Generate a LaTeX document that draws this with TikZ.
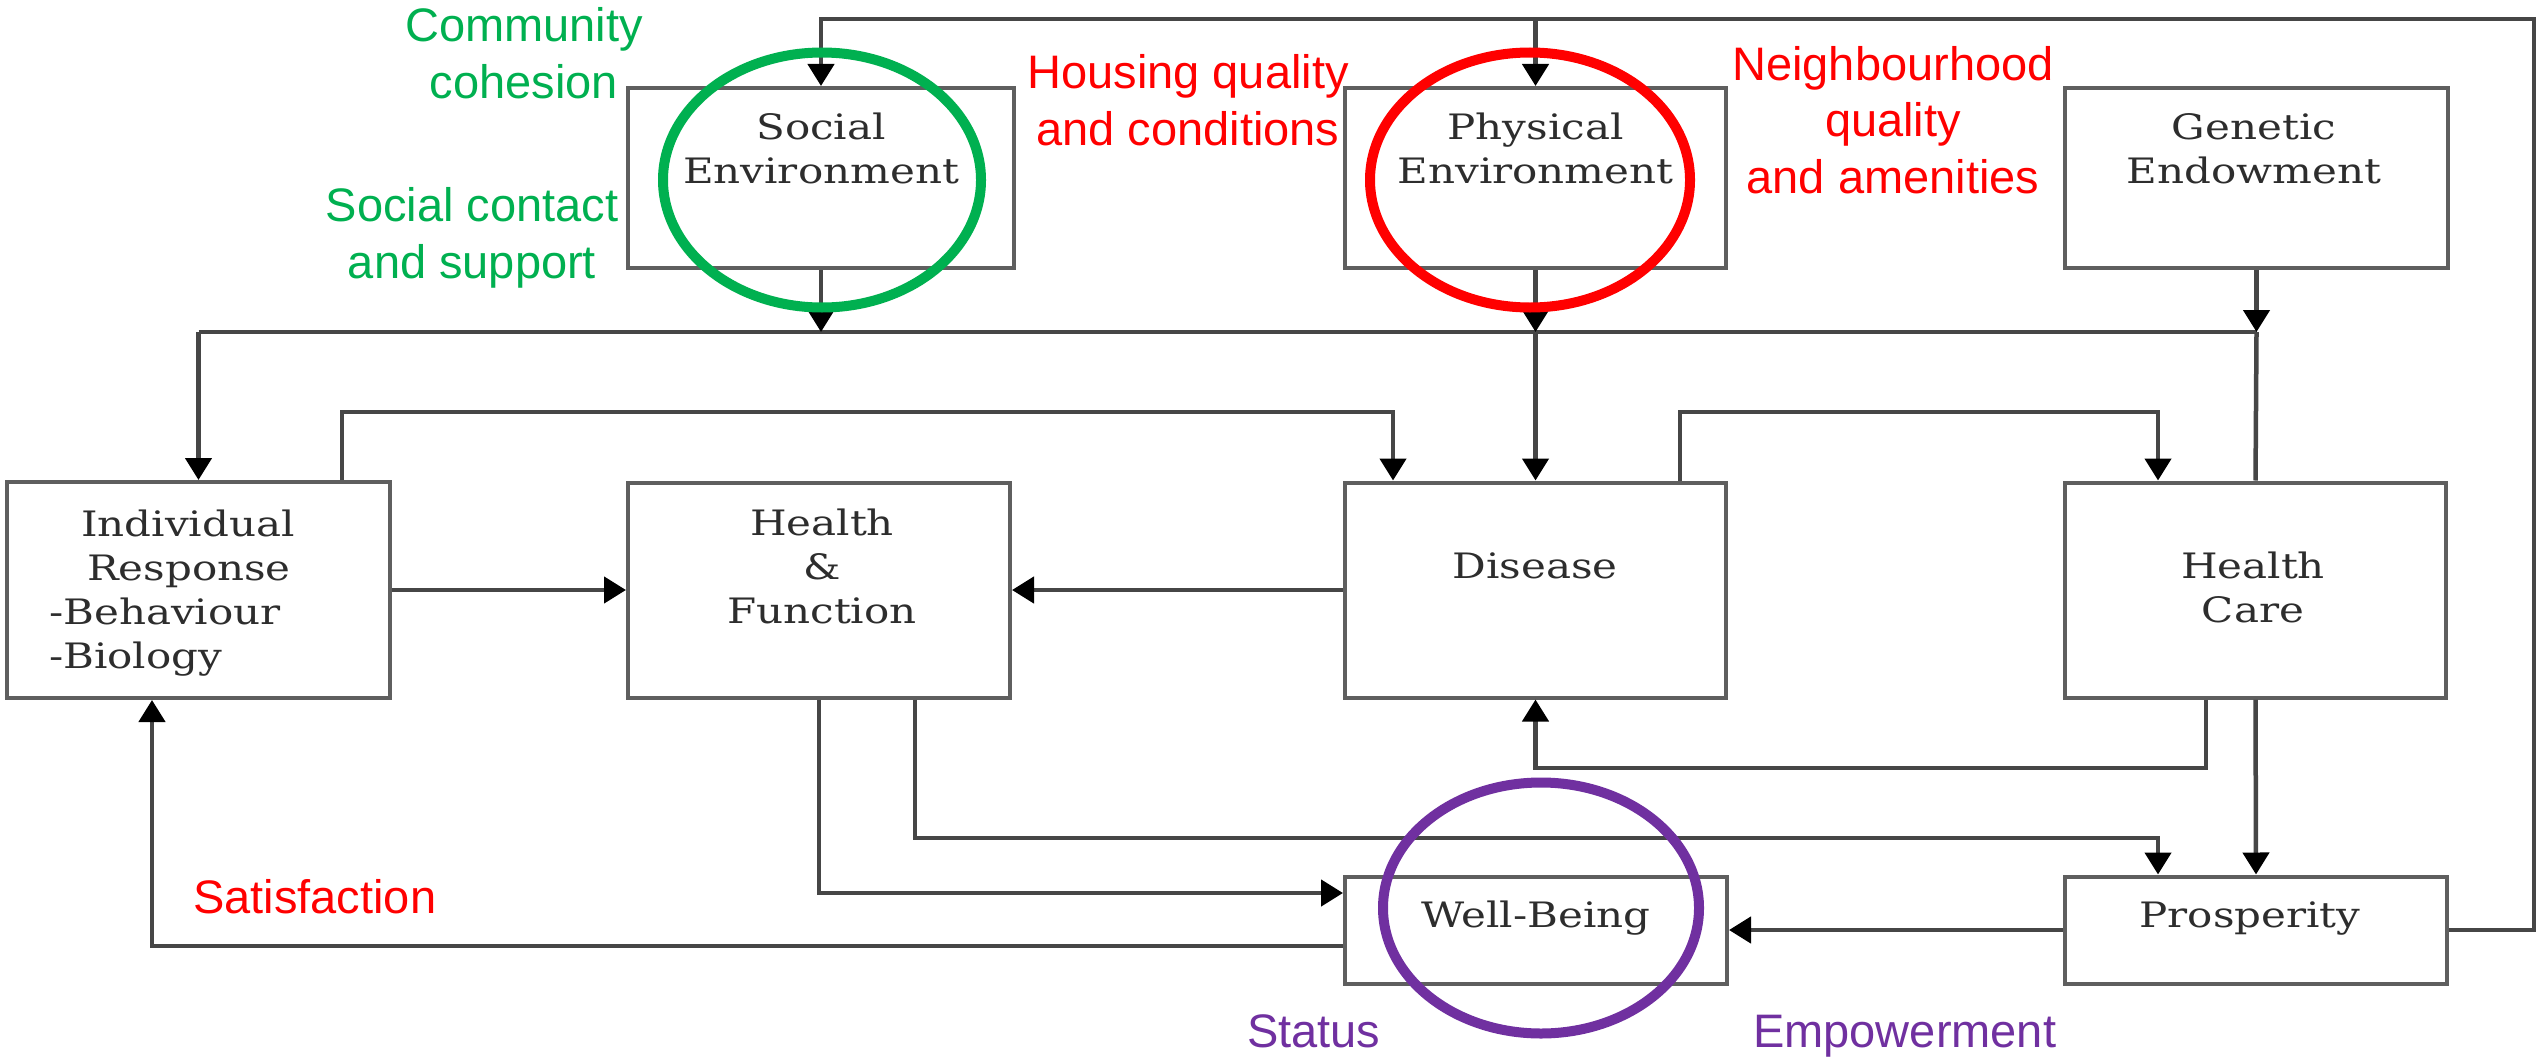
\documentclass[tikz,border=0pt]{standalone}
\usepackage{fontspec}
\usepackage{graphicx}
\setmainfont{Liberation Sans}
\newfontfamily\boxfont{DejaVu Serif}
\usetikzlibrary{arrows.meta,shapes.geometric}

\definecolor{grn}{HTML}{00B050}
\definecolor{rd}{HTML}{FF0000}
\definecolor{prp}{HTML}{7030A0}
\definecolor{edge}{RGB}{95,95,95}
\definecolor{wire}{RGB}{70,70,70}
\definecolor{ink}{RGB}{45,45,45}

% horizontally stretched serif for the box captions
\newcommand{\wide}[1]{\scalebox{1.2}[1]{#1}}

\tikzset{
  blk/.style={draw=edge, line width=4pt, fill=white, inner sep=0pt, rectangle},
  captxt/.style={font=\boxfont\fontsize{35}{44}\selectfont, text=ink, align=center, inner sep=0pt},
  annot/.style={font=\fontsize{47}{56.5}\selectfont, align=center, inner sep=0pt},
  conn/.style={draw=wire, line width=4.5pt},
  arr/.style={-{Triangle[length=22pt,width=26pt,color=black]}},
  ring/.style={ellipse, draw=#1, line width=10pt, inner sep=0pt},
}

\begin{document}
\begin{tikzpicture}[x=1pt,y=-1pt]
\useasboundingbox[fill=white] (0,0) rectangle (2539,1057);

% boxes
\node[blk, minimum width=386pt, minimum height=180pt] (soc) at (821,178) {};
\node[blk, minimum width=381pt, minimum height=180pt] (phy) at (1535.5,178) {};
\node[blk, minimum width=383pt, minimum height=180pt] (gen) at (2256.5,178) {};
\node[blk, minimum width=383pt, minimum height=216pt] (ind) at (198.5,590) {};
\node[blk, minimum width=382pt, minimum height=215pt] (hf) at (819,590) {};
\node[blk, minimum width=381pt, minimum height=215pt] (dis) at (1535.5,590) {};
\node[blk, minimum width=381pt, minimum height=215pt] (hc) at (2255.5,590) {};
\node[blk, minimum width=382pt, minimum height=107pt] (wb) at (1536,930) {};
\node[blk, minimum width=382pt, minimum height=107pt] (pro) at (2256,930) {};

% box captions (anchored on the baseline of their last line)
\node[captxt, anchor=base] (soc-t) at (821,183) {\wide{Social}\\\wide{Environment}};
\node[captxt, anchor=base] (phy-t) at (1535.5,183) {\wide{Physical}\\\wide{Environment}};
\node[captxt, anchor=base] (gen-t) at (2254,183) {\wide{Genetic}\\\wide{Endowment}};
\node[captxt, anchor=base west, align=left] (ind-t) at (49,668)
  {\hspace*{32pt}\wide{Individual}\\\hspace*{38pt}\wide{Response}\\\wide{-Behaviour}\\\wide{-Biology}};
\node[captxt, anchor=base] (hf-t) at (822,623) {\wide{Health}\\\wide{\&}\\\wide{Function}};
\node[captxt, anchor=base] (dis-t) at (1535,578) {\wide{Disease}};
\node[captxt, anchor=base] (hc-t) at (2253,622) {\wide{Health}\\\wide{Care}};
\node[captxt, anchor=base] (wb-t) at (1536,927) {\wide{Well-Being}};
\node[captxt, anchor=base] (pro-t) at (2250,927) {\wide{Prosperity}};

% bend points
\coordinate (busW) at (198.5,332);
\coordinate (busE) at (2256.5,332);
\coordinate (b1) at (1393,412);
\coordinate (b2) at (2158,412);
\coordinate (b3) at (1535.5,768);
\coordinate (b4) at (2158,838);
\coordinate (b5) at (2534,19);

% distribution bus below the top row
\draw[conn] (busW) -- (busE);
\draw[conn,arr] (busW) -- (ind.north);
\draw[conn,arr] (soc.south) -- (soc.south |- busW);
\draw[conn,arr] (phy.south) -- (phy.south |- busW);
\draw[conn,arr] (phy.south |- busW) -- (dis.north);
\draw[conn,arr] (gen.south) -- (gen.south |- busW);
\draw[conn] (gen.south |- busW) -- (hc.north);

% middle row
\draw[conn,arr] (ind.east) -- (hf.west);
\draw[conn,arr] (dis.west) -- (hf.east);
\draw[conn,arr] ([xshift=143.5pt]ind.north) |- (b1) -- ([xshift=-142.5pt]dis.north);
\draw[conn,arr] ([xshift=144.5pt]dis.north) |- (b2) -- ([xshift=-97.5pt]hc.north);
\draw[conn,arr] ([xshift=-49.5pt]hc.south) |- (b3) -- (dis.south);
\draw[conn,arr] (hc.south) -- (pro.north);

% bottom row
\draw[conn,arr] ([xshift=96pt]hf.south) |- (b4) -- ([xshift=-98pt]pro.north);
\draw[conn,arr] (hf.south) |- ([yshift=37pt]wb.west);
\draw[conn,arr] ([yshift=-16pt]wb.west) -| ([xshift=-46.5pt]ind.south);
\draw[conn,arr] (pro.west) -- (wb.east);

% feedback loop over the top
\draw[conn,arr] (pro.east) -| (b5) -| (soc.north);
\draw[conn,arr] (phy.north |- b5) -- (phy.north);

% highlight rings
\node[ring=grn, minimum width=318pt, minimum height=255pt] (ringS) at (822,180) {};
\node[ring=rd, minimum width=320pt, minimum height=255pt] (ringP) at (1530,180) {};
\node[ring=prp, minimum width=316pt, minimum height=251pt] (ringW) at (1541,908) {};

% annotations (anchored on the baseline of their last line)
\node[annot, text=grn, anchor=base] (n1) at (524,98) {Community\\cohesion};
\node[annot, text=grn, anchor=base] (n2) at (472,278) {Social contact\\and support};
\node[annot, text=rd, anchor=base] (n3) at (1188,145) {Housing quality\\and conditions};
\node[annot, text=rd, anchor=base] (n4) at (1893,193) {Neighbourhood\\quality\\and amenities};
\node[annot, text=rd, anchor=base west] (n5) at (193,913) {Satisfaction};
\node[annot, text=prp, anchor=base west] (n6) at (1247,1047) {Status};
\node[annot, text=prp, anchor=base west] (n7) at (1753,1047) {Empowerment};
\end{tikzpicture}
\end{document}
